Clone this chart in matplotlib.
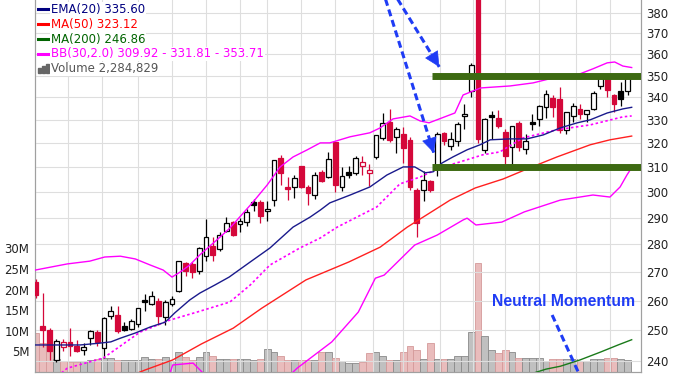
import numpy as np
import matplotlib
matplotlib.use("Agg")
import matplotlib.pyplot as plt
from matplotlib.ticker import FixedLocator, FixedFormatter, NullLocator
from matplotlib.lines import Line2D
from matplotlib.patches import Rectangle

# daily candles, oldest first
opens = [266.4, 251.4, 250.1, 240.3, 244.6, 246.2, 244.9, 243.6, 247.4, 249.5,
         244.2, 254.9, 255.1, 251.4, 250.3, 252.2, 260.2, 258.8, 259.9, 254.4,
         258.8, 263.4, 273.2, 272.8, 270.2, 275.7, 279.3, 278.3, 285.0, 288.5,
         287.7, 288.3, 296.3, 296.3, 292.5, 296.9, 314.0, 302.2, 302.0, 310.4,
         302.0, 299.0, 308.2, 306.0, 320.6, 301.9, 308.0, 307.9, 310.6, 307.9,
         314.3, 322.1, 329.2, 322.9, 324.0, 321.5, 300.9, 300.9, 304.5, 310.4,
         324.6, 319.0, 321.0, 331.8, 343.0, 400.0, 317.3, 332.0, 331.0, 325.0,
         318.3, 328.9, 317.7, 329.2, 330.5, 335.7, 339.8, 339.4, 325.6, 331.8,
         334.9, 332.8, 334.9, 345.0, 349.4, 341.3, 342.7, 342.7]
highs = [267.5, 262.5, 250.6, 247.3, 247.3, 250.6, 246.8, 245.7, 250.1, 250.0,
         254.5, 258.3, 258.3, 252.8, 253.9, 257.5, 262.2, 263.4, 261.0, 260.3,
         261.5, 274.0, 273.7, 273.5, 279.2, 289.6, 282.8, 284.5, 290.2, 289.0,
         290.0, 293.5, 297.5, 297.0, 296.5, 313.2, 315.0, 306.0, 307.0, 310.6,
         303.0, 308.0, 309.0, 316.3, 320.6, 310.0, 310.5, 314.8, 314.5, 311.5,
         323.4, 333.3, 335.0, 327.0, 327.0, 322.5, 301.5, 308.4, 305.0, 325.0,
         325.0, 324.7, 329.0, 336.9, 356.0, 400.0, 331.0, 333.8, 334.6, 326.0,
         327.6, 329.5, 324.0, 332.5, 336.5, 343.5, 341.0, 344.5, 333.5, 337.5,
         337.0, 334.5, 343.0, 350.0, 350.0, 341.5, 347.0, 349.8]
lows = [261.0, 244.6, 240.3, 239.8, 243.3, 241.6, 242.8, 242.0, 245.2, 245.0,
        241.0, 253.9, 249.0, 249.6, 250.0, 251.0, 256.6, 258.6, 251.7, 251.7,
        258.0, 262.8, 268.5, 268.0, 269.3, 274.0, 274.0, 277.5, 284.5, 283.0,
        284.5, 287.0, 292.8, 288.0, 289.0, 294.5, 303.0, 297.0, 297.7, 301.5,
        295.0, 297.5, 304.0, 305.5, 300.0, 300.5, 305.5, 307.0, 307.0, 302.5,
        313.5, 321.5, 320.5, 316.0, 312.0, 301.0, 282.8, 296.5, 300.0, 306.5,
        319.5, 317.3, 319.0, 326.1, 340.0, 320.0, 316.0, 321.8, 326.6, 310.7,
        310.7, 316.6, 315.5, 325.6, 327.5, 331.0, 331.5, 324.5, 324.0, 329.0,
        330.5, 329.0, 334.5, 344.0, 340.0, 333.6, 336.0, 341.0]
closes = [261.9, 250.1, 243.3, 246.6, 246.2, 244.8, 243.3, 244.6, 249.6, 246.2,
          254.2, 256.5, 249.6, 250.1, 253.0, 257.3, 259.6, 261.6, 254.7, 259.4,
          260.5, 274.0, 270.5, 269.9, 278.7, 282.6, 276.0, 283.4, 288.0, 283.4,
          288.9, 292.1, 295.0, 290.6, 293.5, 313.2, 307.9, 301.2, 305.6, 302.0,
          299.7, 306.8, 304.6, 313.5, 302.7, 306.3, 306.8, 314.0, 312.4, 309.1,
          323.4, 328.9, 321.4, 326.1, 318.0, 302.2, 288.0, 304.7, 301.0, 323.9,
          321.0, 321.8, 328.3, 332.5, 355.0, 322.0, 330.6, 331.2, 327.5, 314.5,
          327.6, 318.3, 321.0, 328.5, 336.2, 341.5, 335.7, 325.6, 333.5, 336.2,
          332.5, 334.2, 341.9, 349.4, 343.2, 337.1, 339.4, 348.7]
# volume in millions
volume_m = [9.4, 7.0, 6.5, 3.2, 2.7, 2.5, 2.5, 2.7, 2.9, 3.2,
            3.4, 3.4, 2.9, 2.9, 2.9, 3.0, 3.7, 3.2, 3.2, 3.7,
            2.7, 4.9, 3.7, 2.9, 3.7, 4.9, 4.0, 3.2, 3.2, 3.2,
            3.2, 3.2, 2.9, 3.2, 5.7, 4.9, 4.0, 2.9, 2.9, 2.9,
            2.9, 3.0, 4.9, 4.9, 3.5, 2.7, 2.1, 2.1, 2.4, 4.7,
            4.9, 4.0, 3.0, 2.9, 4.9, 6.3, 5.3, 3.2, 7.0, 3.2,
            3.2, 3.2, 3.8, 4.0, 9.8, 26.4, 8.7, 5.3, 4.5, 5.3,
            4.9, 3.5, 3.5, 3.5, 3.5, 2.7, 3.2, 3.2, 3.2, 3.2,
            2.7, 2.7, 3.2, 3.2, 3.5, 3.5, 3.2, 2.9]

# overlays (candle index, price)
ema20_x = [-0.1, 3.5, 6.5, 9.4, 11.0, 12.4, 14.6, 16.8, 19.0, 20.4, 22.6, 24.1, 26.3,
           28.4, 31.5, 34.4, 37.8, 40.3, 41.8, 43.2, 46.2, 49.1, 51.6, 54.0, 55.7,
           57.2, 58.4, 59.7, 61.3, 63.4, 65.3, 66.8, 69.7, 72.2, 74.6, 77.1, 79.6,
           81.5, 84.0, 86.3, 87.6]
ema20_y = [245.2, 245.2, 245.2, 245.8, 246.2, 247.4, 249.1, 251.1, 252.7, 255.8, 260.2,
           262.6, 265.4, 268.2, 273.6, 278.7, 286.5, 290.3, 293.0, 295.8, 298.9, 302.1,
           306.9, 310.2, 310.2, 307.8, 308.2, 311.8, 314.3, 317.3, 319.4, 321.5, 321.9,
           321.9, 323.6, 326.6, 328.8, 330.1, 333.1, 334.9, 335.6]
ma50_x = [12.4, 16.0, 20.1, 24.3, 29.0, 33.2, 39.7, 46.0, 50.6, 54.6, 60.9, 64.6,
          68.7, 72.6, 76.6, 81.5, 84.4, 87.6]
ma50_y = [234.1, 237.2, 240.4, 245.5, 250.7, 257.4, 267.2, 273.6, 279.0, 286.5, 296.9,
          301.7, 305.3, 309.8, 314.3, 319.4, 321.5, 323.1]
ma200_x = [72.0, 75.0, 77.1, 80.0, 83.0, 85.6, 87.6]
ma200_y = [235.5, 237.5, 238.4, 240.4, 242.9, 245.2, 246.9]
bb_up_x = [-0.1, 4.6, 7.9, 10.1, 12.4, 14.6, 16.8, 18.7, 20.0, 21.2, 22.6, 24.1, 26.6,
           28.5, 31.9, 34.0, 35.9, 37.8, 39.9, 41.8, 43.2, 46.2, 49.1, 50.6, 52.5,
           55.0, 56.5, 57.8, 61.6, 62.8, 65.4, 69.7, 73.1, 76.6, 79.6, 81.9, 84.0,
           85.1, 86.3, 87.6]
bb_up_y = [270.7, 272.9, 273.9, 275.4, 275.7, 274.7, 272.5, 270.7, 268.2, 270.0, 272.5,
           276.2, 281.7, 286.1, 296.1, 302.9, 310.2, 314.3, 317.3, 320.2, 320.2, 322.8,
           324.5, 326.6, 330.5, 331.8, 329.6, 328.8, 333.1, 341.1, 344.3, 345.2, 346.6,
           349.3, 350.3, 353.1, 355.9, 356.3, 354.4, 353.7]
bb_mid_x = [2.8, 4.6, 9.9, 15.3, 19.7, 23.7, 28.5, 31.5, 34.4, 38.8, 41.8, 44.3, 50.1,
            53.5, 56.5, 59.4, 62.4, 65.7, 68.2, 71.6, 76.6, 81.5, 86.3, 87.6]
bb_mid_y = [234.7, 237.8, 241.0, 249.4, 253.4, 256.1, 259.5, 265.4, 272.5, 278.7, 282.4,
            286.5, 294.2, 303.3, 306.1, 309.8, 312.3, 315.2, 316.4, 322.3, 325.8, 327.9,
            331.4, 331.8]
bb_lo_x = [17.0, 19.7, 20.1, 23.1, 24.6, 26.5, 32.0, 36.5, 38.4, 43.5, 47.4, 49.9, 51.2,
           55.7, 59.0, 62.8, 63.4, 64.7, 68.5, 71.8, 77.1, 81.9, 84.4, 85.9, 86.9, 87.6]
bb_lo_y = [232.5, 236.2, 238.8, 239.4, 236.2, 233.5, 231.0, 234.0, 237.8, 246.2, 256.1,
           267.8, 268.9, 279.8, 283.5, 289.2, 289.9, 287.3, 288.4, 292.3, 296.9, 298.9,
           298.1, 302.1, 306.9, 309.9]

price_ticks = [240, 250, 260, 270, 280, 290, 300, 310, 320, 330, 340, 350, 360, 370, 380]
vol_ticks = [5, 10, 15, 20, 25, 30]
vol_labels = ['5M', '10M', '15M', '20M', '25M', '30M']
week_lines = [4.7, 9.7, 15, 20, 25, 30, 34, 39, 44, 49.5, 54, 59.4, 64.3, 69, 74, 79.4, 84.4]
levels = [350, 310]   # support / resistance

legend_items = [('EMA(20) 335.60', '#000080'),
                ('MA(50) 323.12', '#ff0000'),
                ('MA(200) 246.86', '#006400'),
                ('BB(30,2.0) 309.92 - 331.81 - 353.71', '#ff00ff'),
                ('Volume 2,284,829', '#555555')]

RED = '#d4083a'
BLUE = '#1f3cf5'
W, H = 685, 375

fig = plt.figure(figsize=(6.85, 3.75), dpi=100)
axv = fig.add_axes([35 / W, 3 / H, 606 / W, 372 / H])
ax = axv.twinx()
ax.set_zorder(axv.get_zorder() + 1)
ax.patch.set_visible(False)

n = len(closes)
idx = np.arange(n)
o = np.array(opens); c = np.array(closes)
prev = np.concatenate([[np.inf], c[:-1]])
down = c < prev
col = np.where(down, RED, 'black')
face = np.where(c >= o, 'white', col)

# volume
axv.bar(idx, volume_m, width=1.0,
        color=np.where(down, '#e9bcbc', '#c0c0c0'),
        edgecolor=np.where(down, '#d49a9a', '#8a8a8a'), linewidth=0.6)
axv.set_ylim(0, 372 / 4.12)
axv.yaxis.set_major_locator(FixedLocator(vol_ticks))
axv.yaxis.set_major_formatter(FixedFormatter(vol_labels))
axv.tick_params(axis='y', length=0, pad=4, labelsize=8.5, labelcolor='#222222')

# price
ax.set_yscale('log')
ax.set_ylim(236.6, 386.7)
ax.set_xlim(-0.15, 88.97)
ax.yaxis.set_major_locator(FixedLocator(price_ticks))
ax.yaxis.set_major_formatter(FixedFormatter([str(t) for t in price_ticks]))
ax.yaxis.set_minor_locator(NullLocator())
ax.tick_params(axis='y', length=0, pad=4, labelsize=8.5, labelcolor='#222222')
ax.set_xticks([])
axv.set_xticks([])
for p in price_ticks:
    ax.axhline(p, color='#dedede', lw=0.8, zorder=0)
for wx in week_lines:
    ax.axvline(wx, color='#dedede', lw=0.8, zorder=0)

for a in (ax, axv):
    a.spines['top'].set_visible(False)
    for s in ('left', 'right', 'bottom'):
        a.spines[s].set_color('#a0a0a0')
        a.spines[s].set_linewidth(0.8)

# candles
ax.vlines(idx, lows, highs, colors=col, lw=0.9, zorder=3)
ax.bar(idx, c - o, bottom=o, width=0.72, color=face, edgecolor=col, linewidth=0.9, zorder=4)

# overlays
ax.plot(bb_up_x, bb_up_y, color='#ff00ff', lw=1.0, zorder=5)
ax.plot(bb_lo_x, bb_lo_y, color='#ff00ff', lw=1.0, zorder=5)
ax.plot(bb_mid_x, bb_mid_y, color='#ff00ff', lw=1.2, ls=(0, (1.5, 1.5)), zorder=5)
ax.plot(ema20_x, ema20_y, color='#1a1a8c', lw=1.0, zorder=5)
ax.plot(ma50_x, ma50_y, color='#ff2020', lw=1.0, zorder=5)
ax.plot(ma200_x, ma200_y, color='#1a7a1a', lw=1.0, zorder=5)

# support / resistance bars
ax.hlines(levels, 58.2, 89, color='#3d6a12', lw=5.0, zorder=6)

# arrows
ax.plot([51.2, 58.5], [389.3, 316.0], color=BLUE, lw=2.2, dashes=(2.3, 1.3), zorder=7)
ax.plot([52.8, 59.3], [389.3, 354.0], color=BLUE, lw=2.2, dashes=(2.3, 1.3), zorder=7)
head = dict(arrowstyle='-|>,head_length=1.0,head_width=0.5', mutation_scale=10,
            color=BLUE, lw=0.5, shrinkA=0, shrinkB=0)
ax.annotate('', xy=(58.5, 316.0), xytext=(-3.5, 11), textcoords='offset points',
            arrowprops=head, zorder=8)
ax.annotate('', xy=(59.3, 354.0), xytext=(-6, 9.8), textcoords='offset points',
            arrowprops=head, zorder=8)
ax.plot([75.9, 80.3], [255.1, 234.0], color=BLUE, lw=2.2, dashes=(2.3, 1.3), zorder=7)
ax.text(77.6, 259.7, 'Neutral Momentum', color=BLUE, fontsize=11.3, fontweight='bold',
        family='Liberation Sans', ha='center', va='center', zorder=8)

# legend
ys = [9.3, 24.3, 39.3, 54, 68.8]
for (txt, clr), yy in zip(legend_items, ys):
    fig.text(51 / W, 1 - yy / H, txt, color=clr, fontsize=8.5, va='center', ha='left',
             bbox=dict(facecolor='white', edgecolor='none', pad=0.5))
    if txt.startswith('Volume'):
        for k, hh in enumerate([5, 7, 9]):
            fig.add_artist(Rectangle(((38 + 4 * k) / W, 1 - (yy + 4.5) / H), 3 / W, hh / H,
                                     transform=fig.transFigure, color='#666666'))
    else:
        fig.add_artist(Line2D([38 / W, 48 / W], [1 - yy / H, 1 - yy / H], color=clr, lw=2.2,
                              transform=fig.transFigure))

fig.savefig('out.png', dpi=100)
